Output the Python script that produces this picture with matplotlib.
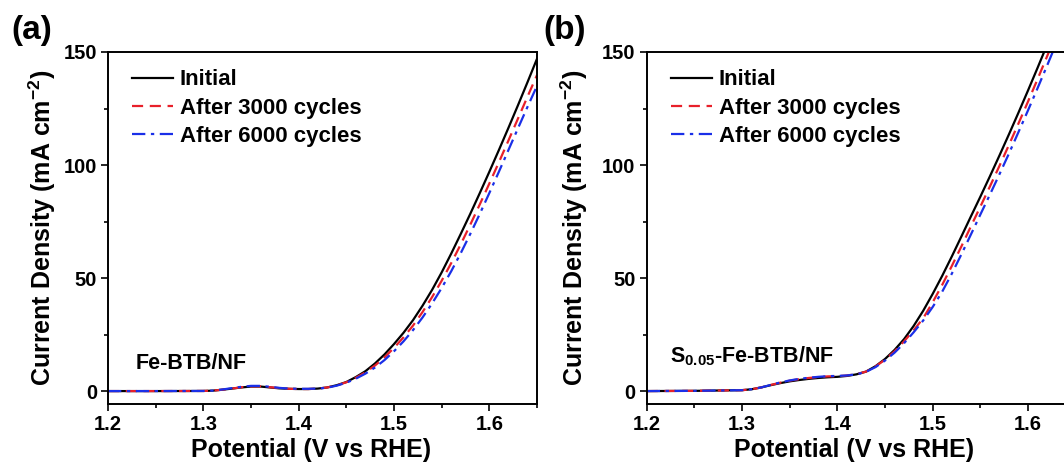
import matplotlib
matplotlib.use('Agg')
import matplotlib.pyplot as plt
from matplotlib.ticker import MultipleLocator

plt.rcParams['font.family'] = ['Liberation Sans', 'DejaVu Sans']
plt.rcParams['font.weight'] = 'bold'
plt.rcParams['mathtext.default'] = 'regular'

# potential grid (V vs RHE), shared by all curves
potential = [1.20, 1.25, 1.30, 1.31, 1.32, 1.33, 1.34, 1.35, 1.36, 1.37, 1.38, 1.39,
             1.40, 1.41, 1.42, 1.43, 1.44, 1.45, 1.46, 1.47, 1.48, 1.49, 1.50, 1.51,
             1.52, 1.53, 1.54, 1.55, 1.56, 1.57, 1.58, 1.59, 1.60, 1.61, 1.62, 1.63,
             1.64, 1.65]

# (a) Fe-BTB/NF
a_initial = [0.0, 0.0, 0.05, 0.2, 0.6, 1.1, 1.6, 2.0, 2.0, 1.6, 1.2, 1.0,
             0.9, 0.9, 1.1, 1.6, 2.6, 4.0, 6.2, 8.8, 12.2, 16.2, 20.8, 25.8,
             31.4, 37.8, 44.8, 52.5, 60.8, 69.5, 78.4, 87.6, 97.0, 106.6, 116.4, 126.4,
             136.6, 147.0]
a_3000 = [0.0, 0.0, 0.05, 0.2, 0.6, 1.1, 1.7, 2.1, 2.1, 1.7, 1.3, 1.0,
          0.9, 0.9, 1.1, 1.6, 2.5, 3.9, 5.9, 8.3, 11.3, 14.9, 19.1, 23.8,
          29.0, 35.0, 41.6, 48.8, 56.6, 64.9, 73.6, 82.6, 91.8, 101.2, 110.8, 120.5,
          130.2, 139.8]
a_6000 = [0.0, 0.0, 0.05, 0.2, 0.7, 1.3, 1.9, 2.3, 2.3, 1.9, 1.4, 1.1,
          1.0, 1.0, 1.1, 1.5, 2.4, 3.7, 5.5, 7.7, 10.4, 13.7, 17.6, 22.0,
          27.0, 32.6, 38.8, 45.6, 53.0, 61.0, 69.5, 78.4, 87.6, 97.0, 106.6, 116.2,
          125.7, 135.0]

# (b) S0.05-Fe-BTB/NF
b_initial = [0.0, 0.1, 0.4, 0.8, 1.6, 2.6, 3.5, 4.3, 4.9, 5.4, 5.8, 6.1,
             6.3, 6.7, 7.4, 8.6, 11.0, 14.2, 18.2, 23.0, 28.8, 35.5, 43.0, 51.0,
             59.5, 68.3, 77.2, 86.0, 95.0, 104.2, 113.6, 123.2, 133.0, 143.0, 153.2, 163.5,
             174.0, 184.5]
b_3000 = [0.0, 0.1, 0.4, 0.8, 1.6, 2.7, 3.7, 4.6, 5.3, 5.8, 6.2, 6.5,
          6.6, 6.9, 7.5, 8.6, 10.9, 13.9, 17.6, 22.0, 26.9, 32.2, 39.3, 47.0,
          55.3, 63.9, 72.8, 81.6, 90.5, 99.6, 108.9, 118.4, 128.1, 138.0, 148.1, 158.4,
          168.8, 179.3]
b_6000 = [0.0, 0.1, 0.4, 0.8, 1.6, 2.7, 3.8, 4.7, 5.4, 5.9, 6.3, 6.6,
          6.7, 6.9, 7.4, 8.5, 10.6, 13.5, 17.0, 21.2, 26.0, 31.2, 37.2, 44.0,
          51.9, 60.4, 69.2, 78.1, 86.9, 95.9, 105.1, 114.6, 124.2, 134.0, 144.0, 154.2,
          164.6, 175.0]

labels = ['Initial', 'After 3000 cycles', 'After 6000 cycles']
colors = ['black', '#e8202a', '#1a2fe8']
styles = ['-', (0, (5, 3)), (0, (6, 2.5, 1.5, 2.5))]

fig = plt.figure(figsize=(10.64, 4.63), dpi=100)
ax_a = fig.add_axes([0.1015, 0.1285, 0.4032, 0.7592])
ax_b = fig.add_axes([0.6078, 0.1285, 0.4032, 0.7592])

panels = [
    (ax_a, [a_initial, a_3000, a_6000], 'Fe-BTB/NF', (0.065, 0.115), -0.153, 0.473),
    (ax_b, [b_initial, b_3000, b_6000], r'S$_{0.05}$-Fe-BTB/NF', (0.054, 0.134), -0.168, 0.483),
]

for ax, series, name, name_pos, ylab_x, xlab_x in panels:
    for ys, lab, col, ls in zip(series, labels, colors, styles):
        ax.plot(potential, ys, color=col, linestyle=ls, linewidth=1.6, label=lab)
    ax.set_xlim(1.2, 1.65)
    ax.set_ylim(-5.5, 150)
    ax.xaxis.set_major_locator(MultipleLocator(0.1))
    ax.xaxis.set_minor_locator(MultipleLocator(0.05))
    ax.yaxis.set_major_locator(MultipleLocator(50))
    ax.yaxis.set_minor_locator(MultipleLocator(25))
    ax.tick_params(which='both', direction='out', top=False, right=False, width=1.2)
    ax.tick_params(which='major', length=5, labelsize=14.5, pad=3)
    ax.tick_params(which='minor', length=3)
    for lbl in ax.get_xticklabels() + ax.get_yticklabels():
        lbl.set_fontweight('bold')
    for sp in ax.spines.values():
        sp.set_linewidth(1.4)
    ax.set_ylabel(r'Current Density (mA cm$^{-2}$)', fontsize=18, fontweight='bold', va='center')
    ax.set_xlabel('Potential (V vs RHE)', fontsize=18, fontweight='bold', va='center')
    ax.yaxis.set_label_coords(ylab_x, 0.5)
    ax.xaxis.set_label_coords(xlab_x, -0.132)
    ax.text(name_pos[0], name_pos[1], name, transform=ax.transAxes, fontsize=15.5,
            fontweight='bold', va='center', ha='left')
    leg = ax.legend(loc='upper left', frameon=False, fontsize=16, handlelength=1.85,
                    handletextpad=0.3, labelspacing=0.33, borderaxespad=0.3,
                    bbox_to_anchor=(0.02, 0.995))
    for t in leg.get_texts():
        t.set_fontweight('bold')

fig.text(0.011, 0.934, '(a)', fontsize=24, fontweight='bold', va='center', ha='left')
fig.text(0.511, 0.934, '(b)', fontsize=24, fontweight='bold', va='center', ha='left')

fig.savefig('out.png', dpi=100, facecolor='white')
